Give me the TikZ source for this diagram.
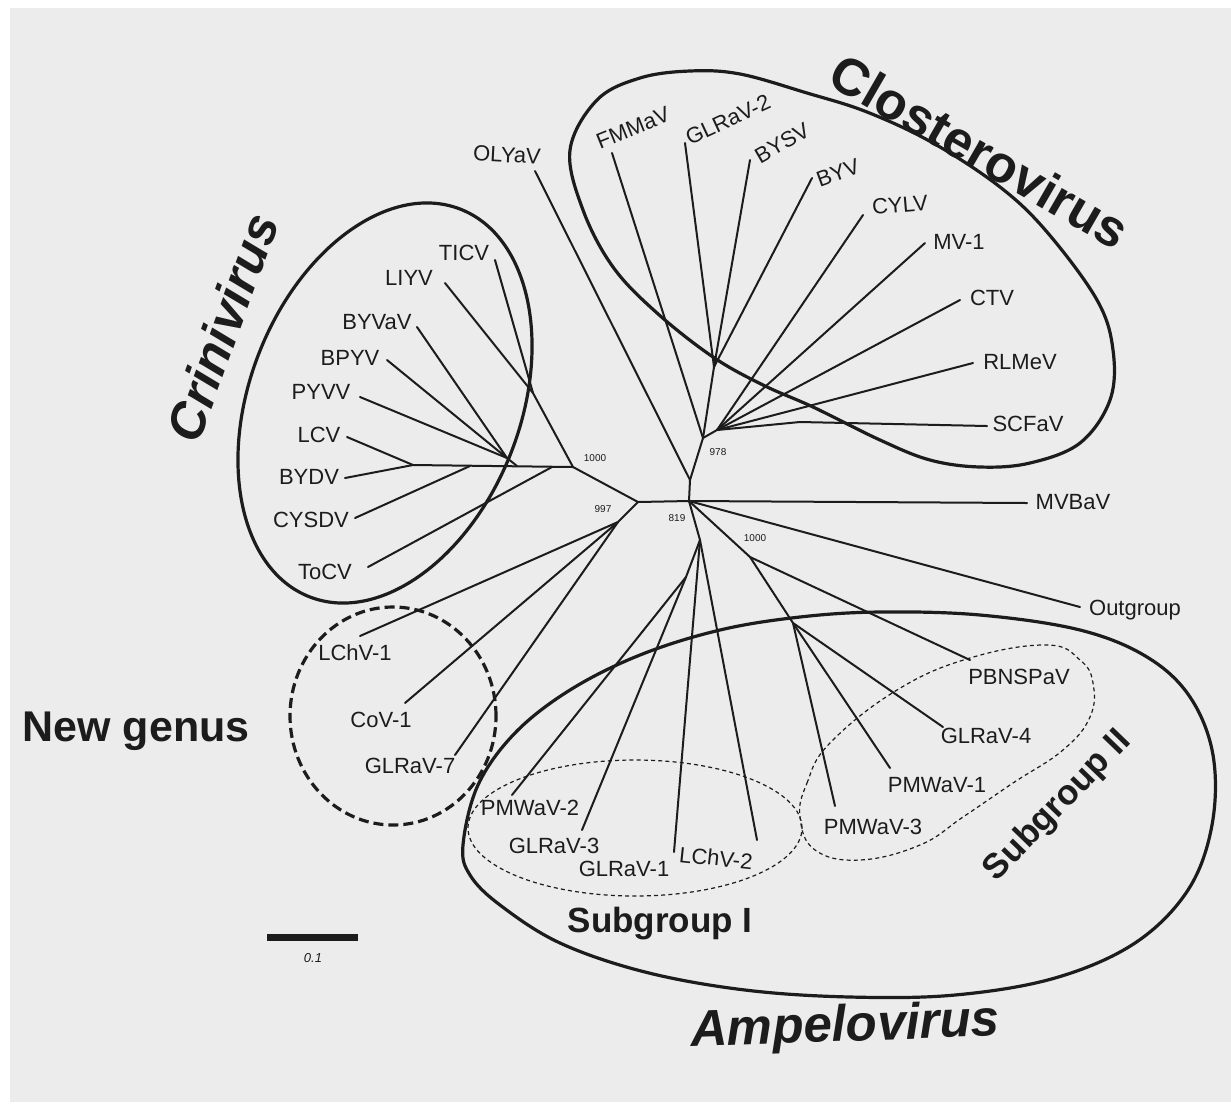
\documentclass[tikz,border=0pt]{standalone}
\usepackage{fontspec}
\setmainfont{Liberation Sans}
\definecolor{paper}{RGB}{236,236,236}
\definecolor{ink}{RGB}{28,28,28}
\tikzset{
  br/.style={line width=1pt, draw=ink, line cap=round, line join=round},
  cladeline/.style={line width=1.6pt, draw=ink},
  dashring/.style={line width=1.6pt, draw=ink, dash pattern=on 5pt off 2.5pt},
  dotring/.style={line width=0.6pt, draw=ink, dash pattern=on 2pt off 1.6pt},
  lab/.style={font=\fontsize{11}{13}\selectfont, text=ink, inner sep=0pt},
  boot/.style={font=\fontsize{5}{6}\selectfont, text=ink, inner sep=0pt},
  bigup/.style={font=\fontsize{26}{30}\selectfont\bfseries, text=ink, inner sep=0pt},
  bigit/.style={font=\fontsize{25.5}{30}\selectfont\bfseries\itshape, text=ink, inner sep=0pt},
  midb/.style={font=\fontsize{21.5}{25}\selectfont\bfseries, text=ink, inner sep=0pt},
  subb/.style={font=\fontsize{17.5}{21}\selectfont\bfseries, text=ink, inner sep=0pt}
}
\begin{document}
\begin{tikzpicture}[x=0.5pt,y=-0.5pt]
\useasboundingbox (0,0) rectangle (1231,1110);
\fill[white] (0,0) rectangle (1231,1110);
\fill[paper] (10,8) rectangle (1231,1102);

% ---------- clade outlines ----------
\draw[cladeline, rotate around={68.8:(385,403)}] (385,403) ellipse [x radius=104pt, y radius=67.75pt];
\draw[cladeline] plot[smooth cycle, tension=0.6] coordinates {
 (570,150) (597,100) (640,78) (690,71) (740,74) (807,93) (867,112) (933,143)
 (1000,187) (1047,232) (1097,300) (1113,350) (1110,400) (1080,443) (1030,463)
 (980,467) (930,460) (880,440) (813,407) (763,385) (713,357) (657,313) (613,267) (583,210)};
\draw[cladeline] plot[smooth cycle, tension=0.6] coordinates {
 (463,845) (478,785) (515,733) (570,690) (640,655) (720,630) (800,617) (880,612)
 (980,615) (1080,630) (1147,657) (1190,697) (1213,755) (1212,825) (1188,890)
 (1135,943) (1055,978) (955,995) (850,997) (745,990) (645,972) (560,943) (500,905) (470,875)};
\draw[dashring] (393,716) ellipse [x radius=51.5pt, y radius=54.5pt];
\draw[dotring] (635,828) ellipse [x radius=83.5pt, y radius=34pt];
\draw[dotring] plot[smooth cycle, tension=0.7] coordinates {
 (800,817) (807,783) (830,743) (897,690) (970,658) (1047,645) (1080,660) (1093,683)
 (1090,717) (1063,750) (1013,783) (963,817) (920,845) (860,860) (815,850)};

% ---------- internal nodes ----------
\coordinate (A) at (689,501);
\coordinate (B) at (638,502);
\coordinate (C) at (573,467);
\coordinate (D) at (533,393);
\coordinate (E) at (507,458);
\coordinate (H) at (517,466);
\coordinate (F) at (413,465);
\coordinate (G) at (470,466);
\coordinate (T1) at (552,467);
\coordinate (N) at (618,522);
\coordinate (M) at (690,480);
\coordinate (J) at (703,438);
\coordinate (K) at (714,367);
\coordinate (L) at (717,430);
\coordinate (SC) at (800,422);
\coordinate (P) at (750,557);
\coordinate (Q) at (793,623);
\coordinate (S) at (700,540);
\coordinate (T) at (686,577);

% ---------- leaf ends ----------
\coordinate (e-olyav) at (535,171);
\coordinate (e-fmmav) at (612,153);
\coordinate (e-glrav2) at (685,143);
\coordinate (e-bysv) at (750,160);
\coordinate (e-byv) at (812,178);
\coordinate (e-cylv) at (863,215);
\coordinate (e-mv1) at (925,243);
\coordinate (e-ctv) at (960,300);
\coordinate (e-rlmev) at (973,363);
\coordinate (e-scfav) at (987,426);
\coordinate (e-mvbav) at (1027,503);
\coordinate (e-outgroup) at (1080,607);
\coordinate (e-pbnspav) at (970,660);
\coordinate (e-glrav4) at (943,727);
\coordinate (e-pmwav1) at (890,768);
\coordinate (e-pmwav3) at (835,806);
\coordinate (e-lchv2) at (757,840);
\coordinate (e-glrav1) at (674,852);
\coordinate (e-glrav3) at (582,830);
\coordinate (e-pmwav2) at (512,795);
\coordinate (e-glrav7) at (455,755);
\coordinate (e-cov1) at (405,703);
\coordinate (e-lchv1) at (360,636);
\coordinate (e-tocv) at (368,567);
\coordinate (e-cysdv) at (355,518);
\coordinate (e-bydv) at (345,478);
\coordinate (e-lcv) at (347,437);
\coordinate (e-pyvv) at (360,397);
\coordinate (e-bpyv) at (387,360);
\coordinate (e-byvav) at (417,327);
\coordinate (e-liyv) at (445,283);
\coordinate (e-ticv) at (495,260);

% ---------- branches ----------
\draw[br] (M) -- (A);
\draw[br] (A) -- (B);
\draw[br] (B) -- (C);
\draw[br] (F) -- (C);
\draw[br] (C) -- (D);
\draw[br] (D) -- (e-ticv);
\draw[br] (D) -- (e-liyv);
\draw[br] (H) -- (E);
\draw[br] (E) -- (e-byvav);
\draw[br] (E) -- (e-bpyv);
\draw[br] (E) -- (e-pyvv);
\draw[br] (F) -- (e-lcv);
\draw[br] (F) -- (e-bydv);
\draw[br] (G) -- (e-cysdv);
\draw[br] (T1) -- (e-tocv);
\draw[br] (B) -- (N);
\draw[br] (N) -- (e-lchv1);
\draw[br] (N) -- (e-cov1);
\draw[br] (N) -- (e-glrav7);
\draw[br] (M) -- (e-olyav);
\draw[br] (M) -- (J);
\draw[br] (J) -- (e-fmmav);
\draw[br] (J) -- (K);
\draw[br] (K) -- (e-glrav2);
\draw[br] (K) -- (e-bysv);
\draw[br] (K) -- (e-byv);
\draw[br] (J) -- (L);
\draw[br] (L) -- (e-cylv);
\draw[br] (L) -- (e-mv1);
\draw[br] (L) -- (e-ctv);
\draw[br] (L) -- (e-rlmev);
\draw[br] (L) -- (SC) -- (e-scfav);
\draw[br] (A) -- (e-mvbav);
\draw[br] (A) -- (e-outgroup);
\draw[br] (A) -- (P);
\draw[br] (P) -- (e-pbnspav);
\draw[br] (P) -- (Q);
\draw[br] (Q) -- (e-glrav4);
\draw[br] (Q) -- (e-pmwav1);
\draw[br] (Q) -- (e-pmwav3);
\draw[br] (A) -- (S);
\draw[br] (S) -- (T);
\draw[br] (T) -- (e-pmwav2);
\draw[br] (T) -- (e-glrav3);
\draw[br] (S) -- (e-glrav1);
\draw[br] (S) -- (e-lchv2);

% ---------- bootstrap values ----------
\node[boot] (b1) at (595,458) {1000};
\node[boot] (b2) at (603,509) {997};
\node[boot] (b3) at (677,518) {819};
\node[boot] (b4) at (718,452) {978};
\node[boot] (b5) at (755,538) {1000};

% ---------- leaf labels ----------
\node[lab, rotate=-3] (olyav) at (507,155) {OLYaV};
\node[lab, rotate=22] (fmmav) at (633,128) {FMMaV};
\node[lab, rotate=25] (glrav2) at (728,120) {GLRaV-2};
\node[lab, rotate=30] (bysv) at (782,143) {BYSV};
\node[lab, rotate=20] (byv) at (838,173) {BYV};
\node[lab, rotate=5] (cylv) at (900,205) {CYLV};
\node[lab] (mv1) at (959,242) {MV-1};
\node[lab] (ctv) at (992,298) {CTV};
\node[lab] (rlmev) at (1020,362) {RLMeV};
\node[lab] (scfav) at (1028,424) {SCFaV};
\node[lab] (mvbav) at (1073,502) {MVBaV};
\node[lab] (outgroup) at (1135,610) {Outgroup};
\node[lab] (pbnspav) at (1019,677) {PBNSPaV};
\node[lab] (glrav4) at (986,736) {GLRaV-4};
\node[lab] (pmwav1) at (937,785) {PMWaV-1};
\node[lab] (pmwav3) at (873,827) {PMWaV-3};
\node[lab, rotate=-6] (lchv2) at (716,858) {LChV-2};
\node[lab] (glrav1) at (624,869) {GLRaV-1};
\node[lab] (glrav3) at (554,846) {GLRaV-3};
\node[lab] (pmwav2) at (530,808) {PMWaV-2};
\node[lab] (glrav7) at (410,766) {GLRaV-7};
\node[lab] (cov1) at (381,720) {CoV-1};
\node[lab] (lchv1) at (355,653) {LChV-1};
\node[lab] (tocv) at (325,572) {ToCV};
\node[lab] (cysdv) at (311,520) {CYSDV};
\node[lab] (bydv) at (309,477) {BYDV};
\node[lab] (lcv) at (319,435) {LCV};
\node[lab] (pyvv) at (321,392) {PYVV};
\node[lab] (bpyv) at (350,358) {BPYV};
\node[lab] (byvav) at (377,322) {BYVaV};
\node[lab] (liyv) at (409,278) {LIYV};
\node[lab] (ticv) at (464,253) {TICV};

% ---------- group names ----------
\node[bigup, rotate=-30] (clo) at (980,151) {Closterovirus};
\node[bigit, rotate=70] (cri) at (222,327) {Crinivirus};
\node[bigit, rotate=2] (amp) at (845,1028) {Ampelovirus};
\node[midb] (ng) at (136,731) {New genus};
\node[subb] (sg1) at (660,924) {Subgroup I};
\node[subb, rotate=46] (sg2) at (1058,806) {Subgroup II};

% ---------- scale bar ----------
\coordinate (sb1) at (267,937);
\coordinate (sb2) at (358,937);
\draw[ink, line width=3.5pt] (sb1) -- (sb2);
\node[font=\fontsize{6.5}{8}\selectfont\itshape, text=ink, inner sep=0pt] (sbl) at (313,958) {0.1};
\end{tikzpicture}
\end{document}
